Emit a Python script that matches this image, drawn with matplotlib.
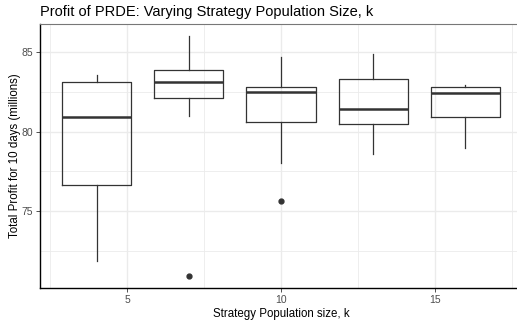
import numpy as np
from matplotlib import pyplot as plt
from matplotlib.ticker import MultipleLocator

# strategy population size, k
k_vals = [4, 7, 10, 13, 16]

# box stats (millions)
wlo = [71.88, 80.98, 78.02, 78.59, 78.98]
q1 = [76.67, 82.08, 80.61, 80.50, 80.94]
med = [80.94, 83.13, 82.48, 81.44, 82.44]
q3 = [83.13, 83.86, 82.81, 83.31, 82.81]
whi = [83.54, 85.98, 84.65, 84.86, 82.92]
outliers = [[], [70.94], [75.63], [], []]

plt.rcParams['font.family'] = ['Liberation Sans', 'DejaVu Sans']

fig = plt.figure(figsize=(5.17, 3.2), dpi=100)
W, H = 517, 320
# panel from px 40..522 (right side is cut off by the image), 24..288
ax = fig.add_axes([40/W, 1-288.3/H, (522-40)/W, (288.3-24)/H])

stats = []
for i in range(len(k_vals)):
    stats.append(dict(whislo=wlo[i], q1=q1[i], med=med[i], q3=q3[i],
                      whishi=whi[i], fliers=outliers[i]))

ax.bxp(stats, positions=k_vals, widths=2.25, showcaps=False, manage_ticks=False,
       boxprops=dict(color='#333333', linewidth=0.9),
       whiskerprops=dict(color='#333333', linewidth=0.9),
       medianprops=dict(color='#333333', linewidth=1.8),
       flierprops=dict(marker='o', markerfacecolor='#333333', markeredgecolor='#333333',
                       markersize=3.5))

ax.set_xlim(2.1625, 17.8375)
ax.set_ylim(70.19, 86.73)
ax.xaxis.set_major_locator(MultipleLocator(5))
ax.xaxis.set_minor_locator(MultipleLocator(2.5))
ax.yaxis.set_major_locator(MultipleLocator(5))
ax.yaxis.set_minor_locator(MultipleLocator(2.5))
ax.grid(which='major', color='#EBEBEB', linewidth=1.0)
ax.grid(which='minor', color='#EBEBEB', linewidth=0.6)
ax.set_axisbelow(True)
ax.tick_params(which='minor', length=0)
ax.tick_params(which='major', length=3, width=0.6, color='#333333',
               labelsize=7.5, labelcolor='#4D4D4D', pad=2)

ax.spines['left'].set_color('black')
ax.spines['bottom'].set_color('black')
ax.spines['left'].set_linewidth(1.0)
ax.spines['bottom'].set_linewidth(1.0)
ax.spines['top'].set_color('#777777')
ax.spines['top'].set_linewidth(0.8)
ax.spines['right'].set_visible(False)

ax.set_xlabel('Strategy Population size, k', fontsize=8.3, labelpad=2)
ax.set_ylabel('Total Profit for 10 days (millions)', fontsize=8.3, va='center')
ax.yaxis.set_label_coords((15 - 40) / 482, 0.5)
fig.text(40/W, 1-12/H, 'Profit of PRDE: Varying Strategy Population Size, k',
         fontsize=10.5, va='center', ha='left')

fig.savefig('out.png', dpi=100)
